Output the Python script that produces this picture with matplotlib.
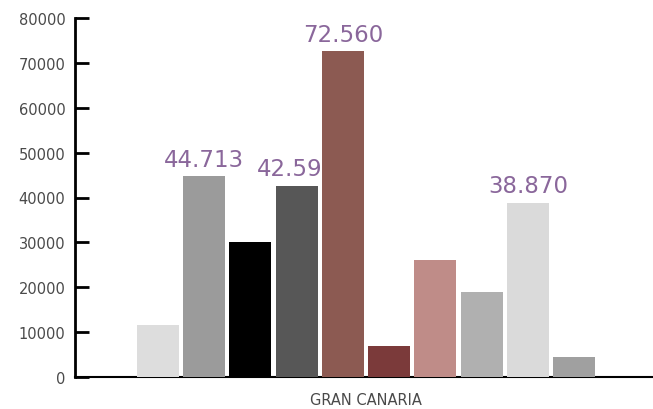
import matplotlib
matplotlib.use("Agg")
import matplotlib.pyplot as plt
import numpy as np

# Data
category = "GRAN CANARIA"
values = [11600, 44713, 30000, 42590, 72560, 6900, 26000, 18900, 38870, 4450]
labels = ["", "44.713", "", "42.590", "72.560", "", "", "", "38.870", ""]
colors = ["#dddddd", "#9b9b9b", "#000000", "#575757", "#8c5a52",
          "#7b3a3a", "#bf8c88", "#b0b0b0", "#dadada", "#a0a0a0"]
yticks = [0, 10000, 20000, 30000, 40000, 50000, 60000, 70000, 80000]

fig = plt.figure(figsize=(6.53, 4.10), dpi=100)
ax = fig.add_axes([75 / 653, 1 - 378 / 410, 1 - 75 / 653, (378 - 19) / 410])

n = len(values)
step = 46.3 / 578
width = 42 / 578
x = (np.arange(n) - (n - 1) / 2) * step

ax.bar(x, values, width=width, color=colors, zorder=3)
for xi, v, lab in zip(x, values, labels):
    if lab:
        ax.annotate(lab, (xi, v), xytext=(0, 4), textcoords="offset points",
                    ha="center", va="bottom", fontsize=16.5,
                    color="#8a679b", zorder=2)

ax.set_xlim(-291 / 578, 287 / 578)
ax.set_ylim(0, 80000)
ax.set_yticks(yticks)
ax.set_yticklabels([str(t) for t in yticks], fontsize=10.5, color="#4a4a4a")
ax.set_xticks([0.0])
ax.set_xticklabels([category], fontsize=10.5, color="#4a4a4a")
ax.tick_params(axis="x", length=0, pad=11)
ax.tick_params(axis="y", direction="in", length=10, width=2, color="black", pad=7)

for side in ["top", "right"]:
    ax.spines[side].set_visible(False)
ax.spines["left"].set_linewidth(2)
ax.spines["bottom"].set_linewidth(1.5)

fig.savefig("out.png", dpi=100)
